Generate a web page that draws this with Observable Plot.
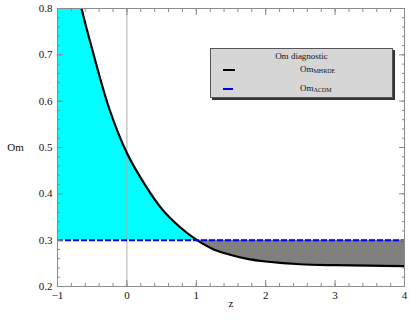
<!DOCTYPE html>
<html>
<head>
<meta charset="utf-8">
<script src="https://cdn.jsdelivr.net/npm/d3@7"></script>
<script src="https://cdn.jsdelivr.net/npm/@observablehq/plot@0.6"></script>
<style>
  html, body { margin: 0; padding: 0; background: #fff; }
  #wrap { position: relative; width: 409px; height: 327px; font-family: "Liberation Serif", "DejaVu Serif", serif; }
  #legend {
    position: absolute; left: 210px; top: 48px; width: 181px; height: 48px;
    background: #d6d6d6; border: 1px solid #555; box-shadow: 2px 2px 0 #333;
    font-size: 9px; color: #111;
  }
  #legend .title { position: absolute; left: 0; right: 0; top: 2px; text-align: center; }
  #legend .row { position: absolute; left: 12px; height: 12px; }
  #legend .sw { position: absolute; left: 0; top: 5px; width: 12px; height: 0; }
  #legend .lab { position: absolute; left: 77px; top: 0; white-space: nowrap; }
  #legend sub { font-size: 6px; vertical-align: -1px; }
</style>
</head>
<body>
<div id="wrap">
  <div id="chart"></div>
  <div id="legend">
    <div class="title">Om diagnostic</div>
    <div class="row" style="top:15px"><div class="sw" style="border-top:2px solid #000"></div><div class="lab">Om<sub>MHRDE</sub></div></div>
    <div class="row" style="top:34px"><div class="sw" style="border-top:2px dashed #0000ee; width:10px"></div><div class="lab">Om<sub>ΛCDM</sub></div></div>
  </div>
</div>
<script>
// Data
const zValues  = [-1, -0.8, -0.654, -0.5, -0.25, 0, 0.25, 0.5, 0.75, 1, 1.25, 1.5, 1.75, 2, 2.5, 3, 3.5, 4];
const omMHRDE  = [1.06, 0.9, 0.8, 0.712, 0.582, 0.488, 0.422, 0.368, 0.330, 0.301, 0.280, 0.268, 0.259, 0.254, 0.248, 0.246, 0.245, 0.244];
const omLCDM   = 0.3;
const xTicks   = [-1, 0, 1, 2, 3, 4];
const yTicks   = [0.2, 0.3, 0.4, 0.5, 0.6, 0.7, 0.8];
const xMinor   = d3.range(-1, 4.001, 0.2);
const yMinor   = d3.range(0.2, 0.8001, 0.02);

const data = zValues.map((z, i) => ({z, om: omMHRDE[i]}));
const frameColor = "#8a8a8a";

const plot = Plot.plot({
  width: 409, height: 327,
  marginLeft: 57, marginRight: 5, marginTop: 8, marginBottom: 41,
  style: {fontFamily: "Liberation Serif, serif", fontSize: "11px", color: "#111", background: "#fff"},
  x: {domain: [-1, 4]},
  y: {domain: [0.2, 0.8]},
  marks: [
    Plot.areaY(data, {x: "z", y1: omLCDM, y2: d => Math.max(d.om, omLCDM), fill: "#00ffff", curve: "catmull-rom", clip: true}),
    Plot.areaY(data, {x: "z", y1: omLCDM, y2: d => Math.min(d.om, omLCDM), fill: "#808080", curve: "catmull-rom", clip: true}),
    Plot.ruleX([0], {stroke: "#aaaaaa", strokeWidth: 1}),
    Plot.line(data, {x: "z", y: "om", stroke: "#000", strokeWidth: 2.2, curve: "catmull-rom", clip: true}),
    Plot.ruleY([omLCDM], {stroke: "#0000ee", strokeWidth: 2, strokeDasharray: "6,2"}),
    // inward ticks on all sides
    Plot.axisX({ticks: xTicks, tickSize: -6, tickFormat: () => "", stroke: frameColor, label: null}),
    Plot.axisX({ticks: xMinor, tickSize: -3, tickFormat: () => "", stroke: frameColor, label: null}),
    Plot.axisX({anchor: "top", ticks: xTicks, tickSize: -6, tickFormat: () => "", stroke: frameColor, label: null}),
    Plot.axisX({anchor: "top", ticks: xMinor, tickSize: -3, tickFormat: () => "", stroke: frameColor, label: null}),
    Plot.axisY({ticks: yTicks, tickSize: -6, tickFormat: () => "", stroke: frameColor, label: null}),
    Plot.axisY({ticks: yMinor, tickSize: -3, tickFormat: () => "", stroke: frameColor, label: null}),
    Plot.axisY({anchor: "right", ticks: yTicks, tickSize: -6, tickFormat: () => "", stroke: frameColor, label: null}),
    Plot.axisY({anchor: "right", ticks: yMinor, tickSize: -3, tickFormat: () => "", stroke: frameColor, label: null}),
    // tick labels
    Plot.axisX({ticks: xTicks, tickSize: 0, tickPadding: 5, label: null, tickFormat: d3.format("d"), fontSize: 11}),
    Plot.axisY({ticks: yTicks, tickSize: 0, tickPadding: 5, label: null, tickFormat: d3.format(".1f"), fontSize: 11}),
    Plot.frame({stroke: frameColor, strokeWidth: 1}),
    Plot.text(["Om"], {frameAnchor: "left", dx: -42, textAnchor: "middle", fontSize: 11}),
    Plot.text(["z"], {frameAnchor: "bottom", dy: 20, fontSize: 11})
  ]
});
document.getElementById("chart").appendChild(plot);
</script>
</body>
</html>
